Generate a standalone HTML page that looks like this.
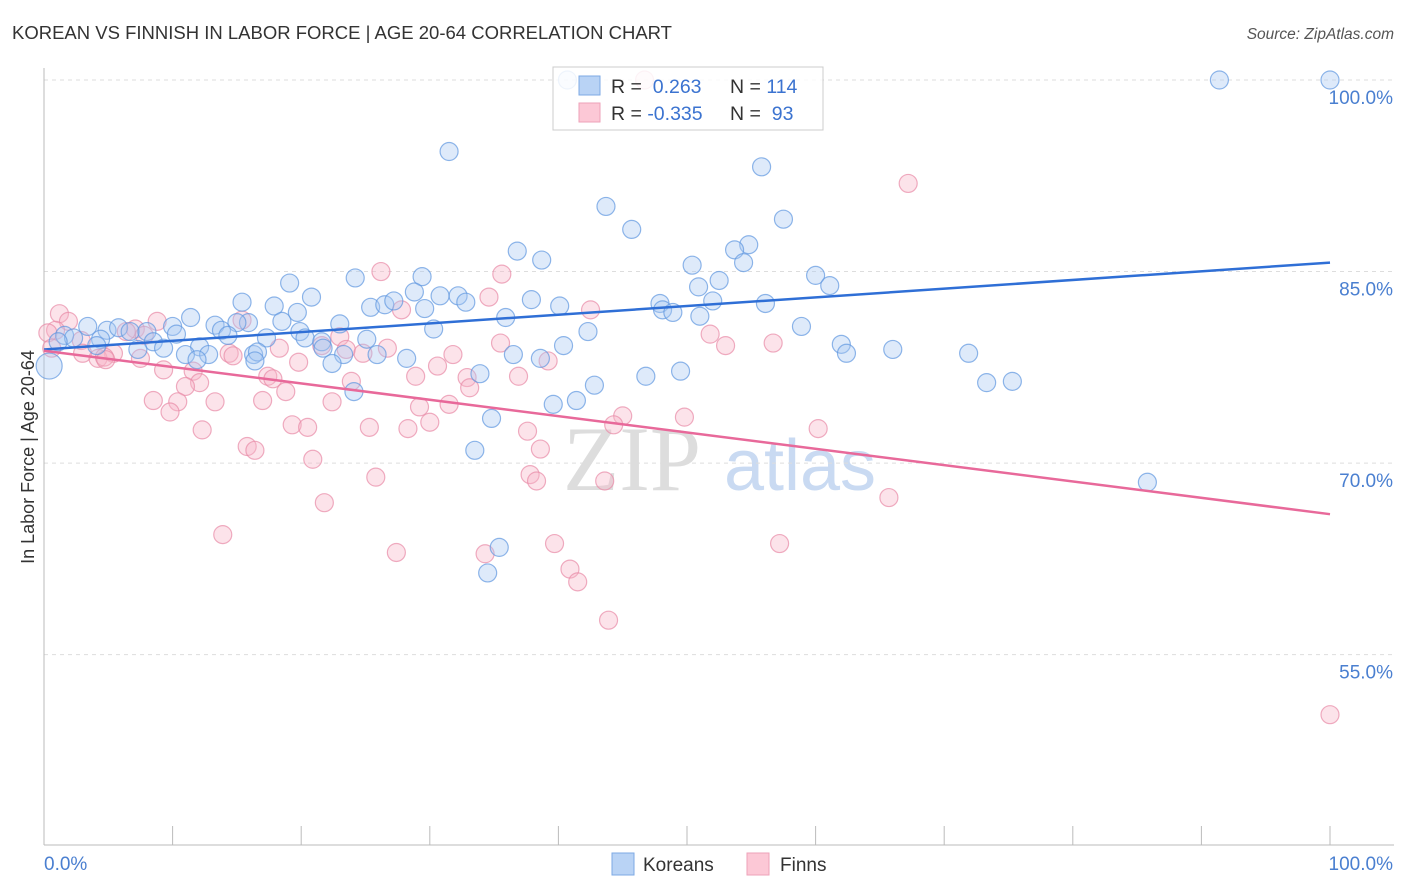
<!DOCTYPE html>
<html><head><meta charset="utf-8"><style>
body{margin:0;background:#fff;font-family:"Liberation Sans",sans-serif;}
svg{display:block}
</style></head><body>
<svg id="chart" width="1406" height="892">
<text x="12" y="39" font-size="18.5" fill="#333">KOREAN VS FINNISH IN LABOR FORCE | AGE 20-64 CORRELATION CHART</text>
<text x="1394" y="39" font-size="15.5" fill="#555" font-style="italic" text-anchor="end">Source: ZipAtlas.com</text>
<text transform="translate(34,457) rotate(-90)" font-size="18" fill="#333" text-anchor="middle">In Labor Force | Age 20-64</text>
<g><text x="632" y="490" font-size="92" font-family="Liberation Serif,serif" fill="#ddd" text-anchor="middle">ZIP</text><text x="800" y="490" font-size="72" fill="#c9daf2" text-anchor="middle">atlas</text></g>
<g id="grid"></g><g id="axes"></g><g id="pts"></g><g id="trend"></g>
<g>
<rect x="553" y="67" width="270" height="63" fill="#fff" fill-opacity="0.85" stroke="#ccc"/>
<rect x="579" y="76" width="21" height="19" fill="#b9d3f5" stroke="#7da9e4"/>
<rect x="579" y="103" width="21" height="19" fill="#fcc8d6" stroke="#eea2b8"/>
<text x="611" y="93" font-size="19.5" fill="#333">R = <tspan fill="#3b73d0">&#160;0.263</tspan><tspan x="730">N = </tspan><tspan fill="#3b73d0">114</tspan></text>
<text x="611" y="120" font-size="19.5" fill="#333">R = <tspan fill="#3b73d0">-0.335</tspan><tspan x="730">N = </tspan><tspan fill="#3b73d0">&#160;93</tspan></text>
</g>
<g>
<rect x="612" y="853" width="22" height="22" fill="#b9d3f5" stroke="#7da9e4"/>
<text x="643" y="871" font-size="19" fill="#333">Koreans</text>
<rect x="747" y="853" width="22" height="22" fill="#fcc8d6" stroke="#eea2b8"/>
<text x="780" y="871" font-size="19" fill="#333">Finns</text>
</g>
</svg>
<script>
const yTicks=[55,70,85,100];
const yTickLabels=["55.0%","70.0%","85.0%","100.0%"];
const xTickLabels=["0.0%","100.0%"];
const koreanX=[40.7,91.4,100,31.5,55.8,43.7,57.5,45.7,36.8,54.8,53.7,38.7,50.4,54.4,52.5,24.2,29.4,60.0,61.1,19.1,50.9,20.8,30.8,28.8,32.2,32.8,37.9,52.0,47.9,56.1,15.4,17.9,25.4,26.5,27.2,40.1,29.6,19.7,48.1,48.9,35.9,51.0,11.4,18.5,23.0,30.3,58.9,42.3,13.3,15.9,15.0,10.0,13.8,3.4,4.9,5.8,6.7,8.0,10.3,19.9,17.3,14.3,20.3,1.6,2.3,4.4,8.5,25.1,21.6,1.1,4.1,9.3,12.1,21.7,40.4,62.0,66.0,71.9,62.4,7.3,11.0,12.8,16.3,16.6,23.3,25.9,28.2,36.5,38.6,11.9,16.4,22.4,33.9,46.8,49.5,42.8,73.3,75.3,24.1,41.4,39.6,34.8,33.5,85.8,35.4,34.5,0.4];
const koreanY=[100,100,100,94.4,93.2,90.1,89.1,88.3,86.6,87.1,86.7,85.9,85.5,85.7,84.3,84.5,84.6,84.7,83.9,84.1,83.8,83.0,83.1,83.4,83.1,82.6,82.8,82.7,82.5,82.5,82.6,82.3,82.2,82.4,82.7,82.3,82.1,81.8,82.0,81.8,81.4,81.5,81.4,81.1,80.9,80.5,80.7,80.3,80.8,81.0,81.0,80.7,80.4,80.7,80.4,80.6,80.3,80.3,80.1,80.3,79.8,80.0,79.8,80.0,79.8,79.7,79.5,79.7,79.5,79.5,79.2,79.0,79.1,79.0,79.2,79.3,78.9,78.6,78.6,78.9,78.5,78.5,78.5,78.7,78.5,78.5,78.2,78.5,78.2,78.1,78.0,77.8,77.0,76.8,77.2,76.1,76.3,76.4,75.6,74.9,74.6,73.5,71.0,68.5,63.4,61.4,77.6];
const finnX=[46.7,67.2,26.2,35.6,34.6,42.5,27.8,1.2,1.9,8.8,15.4,0.9,0.3,7.1,6.4,7.8,51.8,23.0,21.6,2.9,0.6,35.5,56.7,53.0,26.7,23.5,18.3,14.4,3.0,5.4,4.2,4.7,4.8,7.5,14.7,24.8,31.8,19.8,39.2,9.3,11.6,30.6,17.4,17.8,28.9,32.9,36.9,23.9,12.1,11.0,18.8,33.1,8.5,17.0,13.3,10.4,22.4,29.2,31.5,9.8,45.0,49.8,30.0,19.3,44.3,25.3,12.3,20.5,28.3,37.6,60.2,15.8,16.4,38.6,20.9,37.8,25.8,38.3,43.6,65.7,21.8,13.9,39.7,57.2,27.4,34.3,40.9,41.5,43.9,100];
const finnY=[100,91.9,85.0,84.8,83.0,82.0,82.0,81.7,81.1,81.1,81.2,80.4,80.2,80.5,80.3,80.0,80.1,79.9,79.2,79.6,79.0,79.4,79.4,79.2,79.0,78.9,79.0,78.6,78.6,78.6,78.2,78.3,78.1,78.2,78.4,78.6,78.5,77.9,78.0,77.3,77.2,77.6,76.8,76.6,76.8,76.7,76.8,76.4,76.3,76.0,75.6,75.9,74.9,74.9,74.8,74.8,74.8,74.4,74.6,74.0,73.7,73.6,73.2,73.0,73.0,72.8,72.6,72.8,72.7,72.5,72.7,71.3,71.0,71.1,70.3,69.1,68.9,68.6,68.6,67.3,66.9,64.4,63.7,63.7,63.0,62.9,61.7,60.7,57.7,50.3];
const koreanTrend=[78.9,85.7];
const finnTrend=[78.8,66.0];

const NS="http://www.w3.org/2000/svg";
const X0=44,X1=1330,Y100=80,PX_PER=12.77;
function sx(v){return X0+(X1-X0)*v/100;}
function sy(v){return Y100+(100-v)*PX_PER;}
function mk(tag,attrs,parent){const e=document.createElementNS(NS,tag);for(const k in attrs)e.setAttribute(k,attrs[k]);parent.appendChild(e);return e;}
const grid=document.getElementById('grid'),axes=document.getElementById('axes'),pts=document.getElementById('pts'),trend=document.getElementById('trend');
yTicks.forEach((t,i)=>{
 const l=mk('line',{x1:44,x2:1394,y1:sy(t),y2:sy(t),stroke:'#ddd','stroke-dasharray':'4,4'},grid);
 
 
 const tx=mk('text',{x:1393,y:sy(t)+24,'font-size':19,fill:'#4a7fd0','text-anchor':'end'},grid);
 tx.textContent=yTickLabels[i];
 
 
});
const ya=mk('line',{x1:44,x2:44,y1:68,y2:845,stroke:'#bbb'},axes);


const xa=mk('line',{x1:44,x2:1394,y1:845,y2:845,stroke:'#bbb'},axes);


for(let i=0;i<=10;i++){
 const t=mk('line',{x1:sx(i*10),x2:sx(i*10),y1:826,y2:845,stroke:'#bbb'},axes);
 
 
}
const xl0=mk('text',{x:44,y:870,'font-size':19,fill:'#4a7fd0'},axes);
xl0.textContent=xTickLabels[0];


const xl1=mk('text',{x:1393,y:870,'font-size':19,fill:'#4a7fd0','text-anchor':'end'},axes);
xl1.textContent=xTickLabels[1];


function drawPts(xs,ys,fill,stroke,name){
 xs.forEach((v,i)=>{
  const c=mk('circle',{cx:sx(v),cy:sy(ys[i]),r:(name==='korean'&&i===xs.length-1)?13:9,fill:fill,'fill-opacity':0.38,stroke:stroke,'stroke-opacity':0.7,'stroke-width':1.2},pts);
  
  
 });
}
drawPts(finnX,finnY,'#f7b6c9','#e88aa6','finn');
drawPts(koreanX,koreanY,'#a9c8f2','#5f97df','korean');
const tk=mk('line',{x1:sx(0),x2:sx(100),y1:sy(koreanTrend[0]),y2:sy(koreanTrend[1]),stroke:'#2f6fd6','stroke-width':2.5},trend);


const tf=mk('line',{x1:sx(0),x2:sx(100),y1:sy(finnTrend[0]),y2:sy(finnTrend[1]),stroke:'#e8699a','stroke-width':2.5},trend);


</script>
</body></html>
